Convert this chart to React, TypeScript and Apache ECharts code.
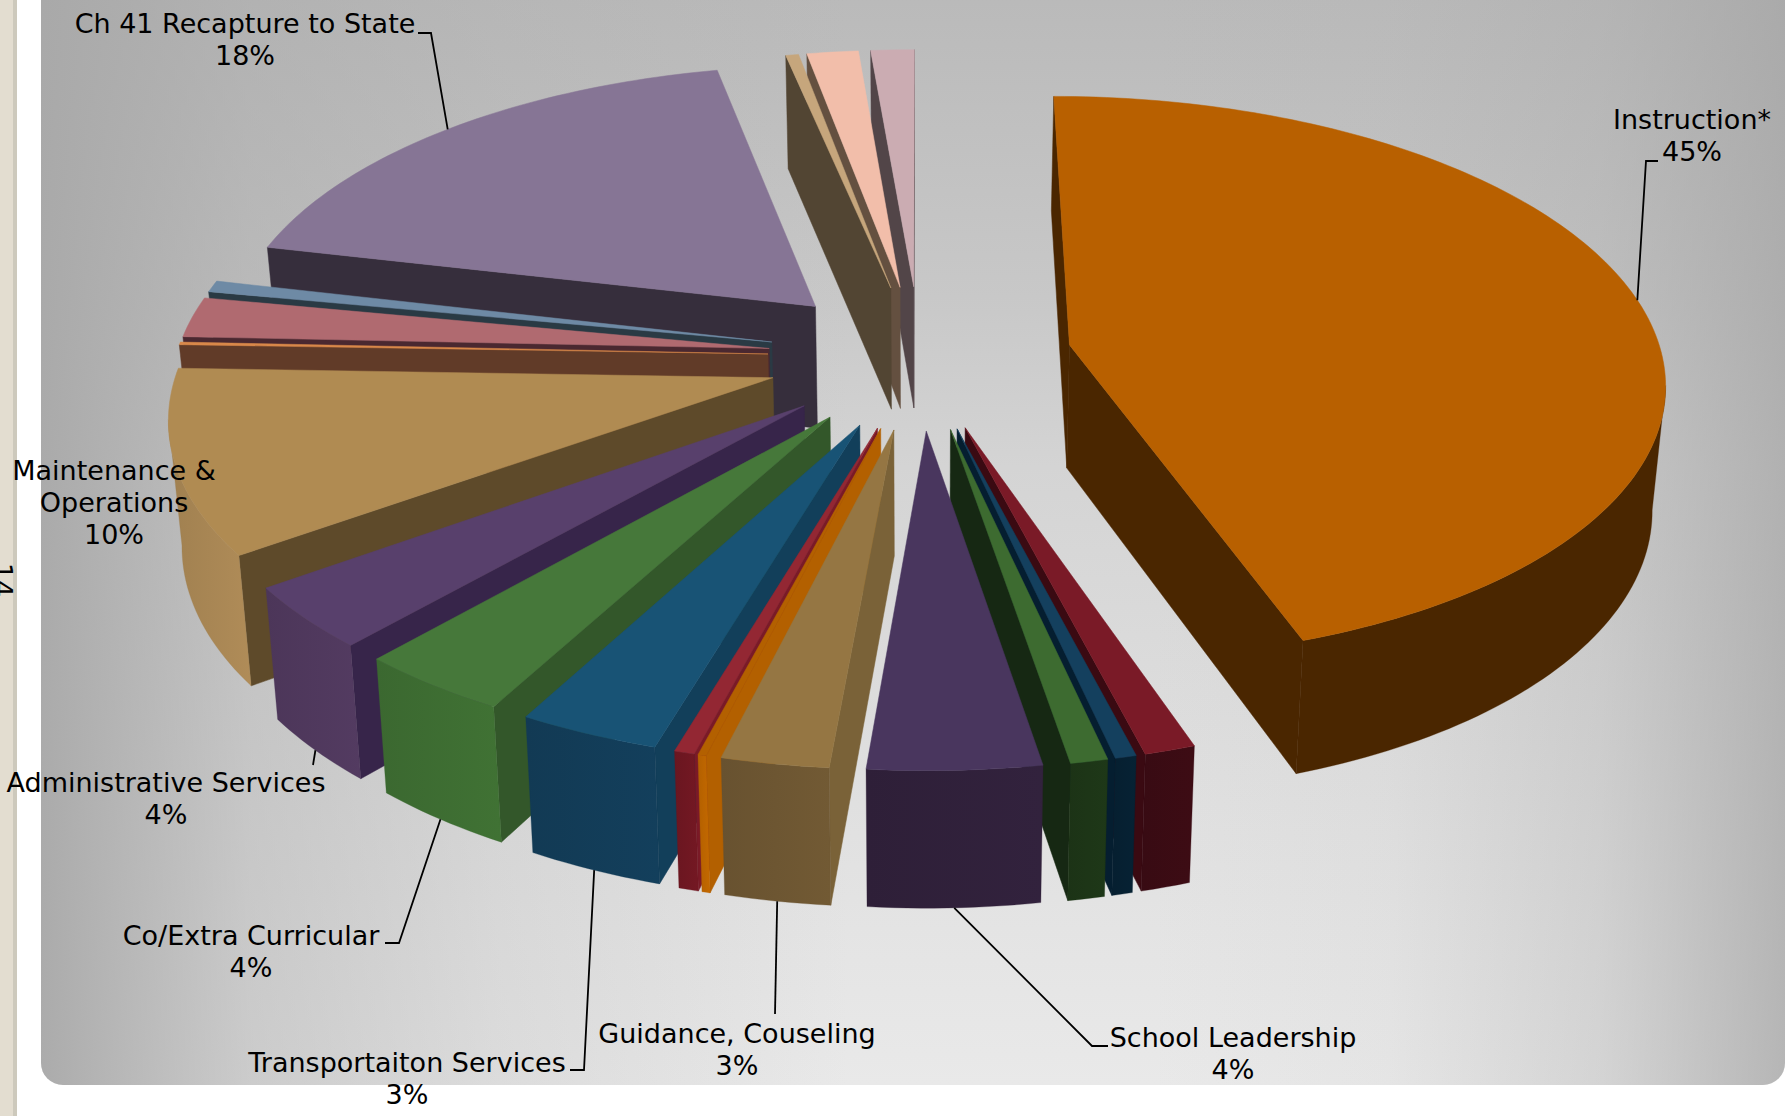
import React, { useEffect, useRef } from "react";
import * as echarts from "echarts";

// Share of the budget for each function, clockwise from twelve o'clock.
const names = [
  "Instruction*", "Debt Maroon", "Debt Blue", "Debt Green", "School Leadership",
  "Guidance, Couseling", "Health Orange", "Media Red", "Transportaiton Services",
  "Co/Extra Curricular", "Administrative Services", "Maintenance &\nOperations",
  "Security", "Data Processing", "Community", "Ch 41 Recapture to State",
  "Facilities", "Appraisal", "Other",
];
const values = [44.75, 1.2, 0.5, 0.88, 4.07, 2.53, 0.2, 0.48, 3.34, 3.64, 3.56, 10.38, 0.15, 2.29, 0.65, 18.03, 0.4, 1.6, 1.35];
const topColors = [
  "#B86000", "#7A1A27", "#14405E", "#3D6B30", "#49365E", "#957643", "#B36000", "#932733", "#185375",
  "#46783A", "#58406C", "#B08B52", "#D9884A", "#B06A70", "#6E8AA5", "#867595", "#C6A67C", "#F2BEAA", "#CBACB2",
];
const sideColors = [
  "#4A2600", "#3A0A12", "#051E30", "#162813", "#281C33", "#7A6238", "#B36000", "#7A1A27", "#123F5A",
  "#33572A", "#37254A", "#5E4A2A", "#613B28", "#4A2830", "#2A3A44", "#362E3C", "#524533", "#645040", "#524548",
];
const outerColors = [
  "#4A2600", "#380B13", "#061F30", "#1C3316", "#2E1F38", "#685230", "#B36000", "#6A1620", "#123A54",
  "#3B6830", "#4C3659", "#A08050", "#613B28", "#4A2830", "#2A3A44", "#362E3C", "#524533", "#645040", "#524548",
];

// Labelled slices: text anchor plus the elbow of the leader line.
const labelled: Record<number, { x: number; y: number; elbow?: number[][]; fromTop?: boolean }> = {
  0: { x: 1692, y: 103, elbow: [[1658, 161], [1646, 161]], fromTop: true },
  4: { x: 1233, y: 1021, elbow: [[1108, 1046], [1092, 1046]] },
  5: { x: 737, y: 1017, elbow: [[775, 1014]] },
  8: { x: 407, y: 1046, elbow: [[570, 1070], [584, 1070]] },
  9: { x: 251, y: 919, elbow: [[385, 943], [399, 943]] },
  10: { x: 166, y: 766, elbow: [[313, 765]] },
  11: { x: 114, y: 454 },
  15: { x: 245, y: 7, elbow: [[418, 33], [431, 33]], fromTop: true },
};

const CX = 920;
const CY = 356.7;
const RX = 592.6;
const RY = 280.5;
const DEPTH = 123.5;
const EXPLODE = 0.257;
const PERSPECTIVE = 0.118;
const BOTTOM_SHRINK = 0.982;
const FONT = '27px "DejaVu Sans"';

type Pt = [number, number];

// Pie plane to screen: X right, Y toward the viewer, radius 1; level 0 is the top face, 1 the bottom face.
function project(X: number, Y: number, level: number): Pt {
  const w = 1 / (1 - PERSPECTIVE * Y);
  const k = level ? BOTTOM_SHRINK : 1;
  return [CX + RX * X * w * k, CY + RY * Y * w * k + DEPTH * w * level];
}

const cross = (o: Pt, a: Pt, b: Pt) => (a[0] - o[0]) * (b[1] - o[1]) - (a[1] - o[1]) * (b[0] - o[0]);

const total = values.reduce((a, b) => a + b, 0);
const starts: number[] = [];
values.reduce((acc, v, i) => ((starts[i] = acc), acc + v), 0);

const midAngle = (i: number) => ((starts[i] + values[i] / 2) / total) * Math.PI * 2;
const drawRank = values
  .map((_, i) => i)
  .sort((a, b) => -Math.cos(midAngle(a)) - -Math.cos(midAngle(b)));

function renderSlice(_: unknown, api: any) {
  const index = api.value(0) as number;
  const value = api.value(1) as number;
  const a0 = (starts[index] / total) * Math.PI * 2;
  const a1 = a0 + (value / total) * Math.PI * 2;
  const mid = (a0 + a1) / 2;
  const ox = EXPLODE * Math.sin(mid);
  const oy = -EXPLODE * Math.cos(mid);
  const steps = Math.max(2, Math.ceil((a1 - a0) / 0.02));
  const rim: [number, number][] = [];
  for (let s = 0; s <= steps; s++) {
    const t = a0 + ((a1 - a0) * s) / steps;
    rim.push([ox + Math.sin(t), oy - Math.cos(t)]);
  }
  const rimTop = rim.map((p) => project(p[0], p[1], 0));
  const rimBottom = rim.map((p) => project(p[0], p[1], 1));
  const apexTop = project(ox, oy, 0);
  const apexBottom = project(ox, oy, 1);
  const z = drawRank.indexOf(index) * 10 + 1;
  const children: any[] = [];
  const down: Pt = [apexTop[0], apexTop[1] + 10];

  // Radial walls: shown only when the bottom edge falls outside the top face.
  const wall = (c: Pt, cb: Pt, other: Pt) => {
    const side = cross(apexTop, c, other);
    const below = cross(apexTop, c, down);
    if (side * below < 0) {
      children.push({
        type: "polygon",
        z2: z,
        shape: { points: [apexTop, c, cb, apexBottom] },
        style: { fill: sideColors[index], stroke: sideColors[index], lineWidth: 0.5 },
      });
    }
  };
  wall(rimTop[0], rimBottom[0], rimTop[steps]);
  wall(rimTop[steps], rimBottom[steps], rimTop[0]);

  // Curved outer wall: the run of rim segments that face the viewer.
  const facing: number[] = [];
  for (let s = 0; s < steps; s++) {
    const a = rimTop[s];
    const b = rimTop[s + 1];
    const inward = cross(a, b, apexTop);
    const d: Pt = [a[0], a[1] + 10];
    if (inward * cross(a, b, d) < 0) facing.push(s);
  }
  if (facing.length) {
    const first = facing[0];
    const last = facing[facing.length - 1] + 1;
    const tops = rimTop.slice(first, last + 1);
    const bots = rimBottom.slice(first, last + 1).reverse();
    const base = outerColors[index];
    const shaded = echarts.color.lift(base, -0.1);
    children.push({
      type: "polygon",
      z2: z + 1,
      shape: { points: [...tops, ...bots] },
      style: {
        fill: index === 0 ? base : {
          type: "linear", x: 0, y: 0, x2: 1, y2: 0,
          colorStops: [
            { offset: 0, color: base },
            { offset: 1, color: shaded },
          ],
        },
        stroke: base,
        lineWidth: 0.3,
      },
    });
  }

  children.push({
    type: "polygon",
    z2: z + 2,
    shape: { points: [apexTop, ...rimTop] },
    style: { fill: topColors[index], stroke: topColors[index], lineWidth: 0.5 },
  });

  const label = labelled[index];
  if (label) {
    const rx = ox + Math.sin(mid);
    const ry = oy - Math.cos(mid);
    const anchor = project(rx, ry, label.fromTop ? 0 : 1);
    if (label.elbow) {
      children.push({
        type: "polyline",
        z2: 1000,
        shape: { points: [anchor, ...label.elbow.slice().reverse()] },
        style: { stroke: "#000", lineWidth: 1.8, fill: "none" },
      });
    }
    children.push({
      type: "text",
      z2: 1001,
      style: {
        x: label.x,
        y: label.y,
        text: `${names[index]}\n${Math.round(value)}%`,
        font: FONT,
        fill: "#000",
        align: "center",
        verticalAlign: "top",
        lineHeight: 32,
      },
    });
  }
  return { type: "group", children };
}

export default function App() {
  const ref = useRef<HTMLDivElement>(null);
  useEffect(() => {
    const chart = echarts.init(ref.current!, null, { renderer: "svg" });
    const panel = { x: 41, y: -40, width: 1744, height: 1125, r: 22 };
    chart.setOption({
      animation: false,
      backgroundColor: "#fff",
      graphic: [
        {
          type: "rect",
          shape: { x: 0, y: 0, width: 16, height: 1116 },
          style: { fill: "#E3DDD0" },
        },
        {
          type: "rect",
          shape: { x: 13, y: 0, width: 4, height: 1116 },
          style: { fill: "#CDC9BC" },
        },
        {
          type: "rect",
          shape: panel,
          style: {
            fill: {
              type: "linear", x: 0, y: 0, x2: 0, y2: 1,
              colorStops: [
                { offset: 0, color: "#B8B8B8" },
                { offset: 0.3, color: "#C8C8C8" },
                { offset: 0.45, color: "#D4D4D4" },
                { offset: 0.75, color: "#E0E0E0" },
                { offset: 1, color: "#E9E9E9" },
              ],
            },
          },
        },
        {
          type: "rect",
          shape: panel,
          style: {
            fill: {
              type: "linear", x: 0, y: 0, x2: 1, y2: 0,
              colorStops: [
                { offset: 0, color: "rgba(168,168,168,0.95)" },
                { offset: 0.12, color: "rgba(168,168,168,0.45)" },
                { offset: 0.263, color: "rgba(168,168,168,0.2)" },
                { offset: 0.464, color: "rgba(168,168,168,0)" },
                { offset: 0.636, color: "rgba(168,168,168,0)" },
                { offset: 0.772, color: "rgba(168,168,168,0.06)" },
                { offset: 0.894, color: "rgba(168,168,168,0.32)" },
                { offset: 1, color: "rgba(165,165,165,0.75)" },
              ],
            },
          },
        },
        {
          type: "text",
          x: 2,
          y: 580,
          rotation: -Math.PI / 2,
          style: { text: "14", font: FONT, fill: "#000", align: "center", verticalAlign: "middle" },
        },
      ],
      series: [
        {
          type: "custom",
          coordinateSystem: "none",
          renderItem: renderSlice,
          silent: true,
          data: values.map((v, i) => [i, v]),
        },
      ],
    });
    return () => chart.dispose();
  }, []);
  return <div ref={ref} style={{ position: "absolute", left: 0, top: 0, width: 1787, height: 1116 }} />;
}
